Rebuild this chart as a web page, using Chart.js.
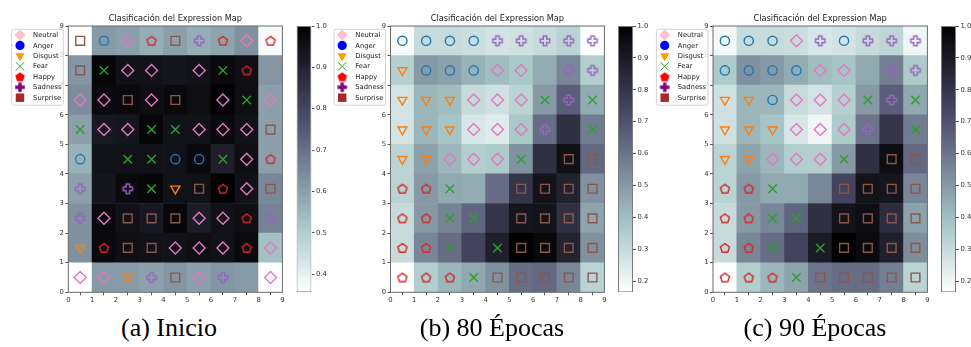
<!DOCTYPE html>
<html>
<head>
<meta charset="utf-8">
<script src="https://cdn.jsdelivr.net/npm/chart.js@4.4.1/dist/chart.umd.min.js"></script>
<style>
html,body{margin:0;padding:0;background:#fff;}
#wrap{position:relative;width:971px;height:347px;overflow:hidden;background:#fff;}
canvas{position:absolute;top:0;}
.cap{position:absolute;top:313px;line-height:30px;font-family:"Liberation Serif","DejaVu Serif",serif;font-size:26px;color:#000;white-space:nowrap;transform:translateX(-50%);}
</style>
</head>
<body>
<div id="wrap">
  <canvas id="m1" width="290" height="312" style="left:0px"></canvas>
  <canvas id="c1" width="40" height="312" style="left:294px"></canvas>
  <canvas id="m2" width="290" height="312" style="left:322px"></canvas>
  <canvas id="c2" width="40" height="312" style="left:616px"></canvas>
  <canvas id="m3" width="290" height="312" style="left:645px"></canvas>
  <canvas id="c3" width="40" height="312" style="left:939px"></canvas>
  <div class="cap" id="cap1" style="left:169px"></div>
  <div class="cap" id="cap2" style="left:492px"></div>
  <div class="cap" id="cap3" style="left:815px"></div>
</div>
<script>
// ---------------- DATA ----------------
const TITLE = 'Clasificación del Expression Map';
const captions = ['(a) Inicio', '(b) 80 Épocas', '(c) 90 Épocas'];
const classNames = ['Neutral', 'Anger', 'Disgust', 'Fear', 'Happy', 'Sadness', 'Surprise'];
const classCodes = ['N', 'A', 'D', 'F', 'H', 'S', 'U'];
const axisTicks = [0, 1, 2, 3, 4, 5, 6, 7, 8, 9];
const cbTicksInicio = [0.4, 0.5, 0.6, 0.7, 0.8, 0.9, 1.0];
const cbTicks80 = [0.2, 0.3, 0.4, 0.5, 0.6, 0.7, 0.8, 0.9, 1.0];
const cbTicks90 = [0.2, 0.3, 0.4, 0.5, 0.6, 0.7, 0.8, 0.9, 1.0];

// distance maps, rows from top (y 8..9) to bottom (y 0..1), columns x 0..8
const distInicio = [
  [0.356, 0.61, 0.60, 0.57, 0.60, 0.57, 0.59, 0.63, 0.37],
  [0.62, 0.98, 0.95, 0.95, 0.94, 0.95, 0.97, 0.96, 0.62],
  [0.64, 0.97, 0.97, 0.96, 0.97, 0.96, 0.99, 0.96, 0.60],
  [0.60, 0.93, 0.94, 0.98, 0.95, 0.95, 0.97, 0.95, 0.60],
  [0.56, 0.95, 0.95, 0.95, 0.95, 0.97, 0.91, 0.96, 0.60],
  [0.60, 0.94, 0.97, 0.98, 0.95, 0.95, 1.00, 0.95, 0.65],
  [0.63, 0.97, 0.95, 0.93, 0.98, 0.92, 0.95, 0.96, 0.66],
  [0.63, 0.97, 0.96, 0.95, 0.95, 0.96, 0.95, 0.97, 0.53],
  [0.356, 0.61, 0.61, 0.60, 0.62, 0.60, 0.62, 0.61, 0.36]
];
const dist80 = [
  [0.18, 0.30, 0.30, 0.29, 0.27, 0.28, 0.30, 0.33, 0.17],
  [0.34, 0.50, 0.48, 0.43, 0.40, 0.37, 0.45, 0.55, 0.35],
  [0.27, 0.42, 0.40, 0.30, 0.28, 0.33, 0.50, 0.66, 0.45],
  [0.27, 0.42, 0.38, 0.26, 0.24, 0.37, 0.62, 0.82, 0.58],
  [0.33, 0.48, 0.42, 0.35, 0.36, 0.52, 0.82, 0.94, 0.63],
  [0.33, 0.50, 0.46, 0.45, 0.62, 0.80, 0.93, 0.87, 0.52],
  [0.30, 0.50, 0.56, 0.64, 0.80, 0.92, 0.93, 0.82, 0.47],
  [0.30, 0.55, 0.62, 0.75, 0.88, 1.00, 0.97, 0.87, 0.52],
  [0.165, 0.35, 0.42, 0.46, 0.52, 0.62, 0.63, 0.55, 0.33]
];
const dist90 = [
  [0.19, 0.30, 0.30, 0.29, 0.26, 0.27, 0.30, 0.32, 0.20],
  [0.36, 0.52, 0.50, 0.45, 0.40, 0.38, 0.46, 0.57, 0.36],
  [0.28, 0.42, 0.42, 0.30, 0.27, 0.34, 0.50, 0.66, 0.46],
  [0.28, 0.42, 0.38, 0.26, 0.20, 0.36, 0.60, 0.80, 0.58],
  [0.33, 0.47, 0.42, 0.35, 0.35, 0.50, 0.82, 0.95, 0.63],
  [0.33, 0.50, 0.46, 0.46, 0.55, 0.75, 0.93, 0.92, 0.55],
  [0.30, 0.50, 0.55, 0.64, 0.82, 0.93, 0.95, 0.83, 0.48],
  [0.30, 0.55, 0.62, 0.75, 0.90, 1.00, 0.96, 0.88, 0.53],
  [0.165, 0.35, 0.42, 0.47, 0.60, 0.62, 0.62, 0.57, 0.33]
];

// winning class per neuron, rows from top to bottom ('.' = none)
const marksInicio = [
  'UANHUSHNH',
  'UFNN.NFH.',
  'NNUNU.NFN',
  'FNNFFNNNU',
  'A.FFAAFNH',
  'S.SFDUHNU',
  'SNUUUNNHS',
  'DHUUNNNHN',
  'NNDSUNS.N'
];
const marks80 = [
  'AAAASSSSS',
  'DAAANN.SS',
  'DDDNNNFSF',
  'DDDNNNS.F',
  'DDNNNF.UU',
  'HHF..UUUU',
  'HHFF.UUUU',
  'HHF.FUUUU',
  'HHHFUUUUU'
];
const marks90 = [
  'AAANSASSS',
  'AAAANN.SS',
  'DDANNNFSF',
  'DDDNNNS.F',
  'DDNNNF.UU',
  'HHF..UUUU',
  'HHFF.UUUU',
  'HHF.FUUUU',
  'HHHFUUUUU'
];

// ---------------- HELPERS ----------------
const FONT = 'DejaVu Sans';
Chart.defaults.font.family = FONT;
Chart.defaults.color = '#262626';

function interp(pts, x) {
  for (let i = 1; i < pts.length; i++) {
    if (x <= pts[i][0]) {
      const [x0, y0] = pts[i - 1], [x1, y1] = pts[i];
      return y0 + (y1 - y0) * (x - x0) / (x1 - x0);
    }
  }
  return pts[pts.length - 1][1];
}
function boneR(t) {
  const x = 1 - Math.max(0, Math.min(1, t));
  const r = interp([[0, 0], [0.746032, 0.652778], [1, 1]], x);
  const g = interp([[0, 0], [0.365079, 0.319444], [0.746032, 0.777778], [1, 1]], x);
  const b = interp([[0, 0], [0.365079, 0.444444], [1, 1]], x);
  return 'rgb(' + Math.round(r * 255) + ',' + Math.round(g * 255) + ',' + Math.round(b * 255) + ')';
}

function markerCanvas(kind, color, filled, lw) {
  const c = document.createElement('canvas');
  c.width = 16; c.height = 16;
  const g = c.getContext('2d');
  g.translate(8, 8);
  g.beginPath();
  if (kind === 'pent') {
    const R = filled ? 5 : 4.8;
    for (let k = 0; k < 5; k++) {
      const a = -Math.PI / 2 + k * 2 * Math.PI / 5;
      const px = R * Math.cos(a), py = R * Math.sin(a) + 0.4;
      if (k === 0) g.moveTo(px, py); else g.lineTo(px, py);
    }
    g.closePath();
  } else {
    const h = filled ? 4.8 : 4.7, a = 1.7;
    const p = [[-a,-h],[a,-h],[a,-a],[h,-a],[h,a],[a,a],[a,h],[-a,h],[-a,a],[-h,a],[-h,-a],[-a,-a]];
    p.forEach((q, i) => i ? g.lineTo(q[0], q[1]) : g.moveTo(q[0], q[1]));
    g.closePath();
  }
  if (filled) { g.fillStyle = color; g.fill(); }
  else { g.strokeStyle = color; g.lineWidth = lw; g.lineJoin = 'miter'; g.stroke(); }
  return c;
}

const LW = 1.4;
const mapStyles = {
  N: {pointStyle: 'rectRot', radius: 6, color: '#e377c2'},
  A: {pointStyle: 'circle', radius: 4.6, color: '#1f77b4'},
  D: {pointStyle: 'triangle', radius: 5.2, rotation: 180, color: '#ff7f0e'},
  F: {pointStyle: 'crossRot', radius: 6, color: '#2ca02c'},
  H: {pointStyle: markerCanvas('pent', '#d62728', false, LW), radius: 5, color: '#d62728'},
  S: {pointStyle: markerCanvas('plus', '#9467bd', false, LW), radius: 5, color: '#9467bd'},
  U: {pointStyle: 'rect', radius: 6.2, color: '#8c564b'}
};
const legendStyles = [
  {pointStyle: 'rectRot', radius: 5.6, color: '#ffc0cb', bw: 0},
  {pointStyle: 'circle', radius: 4.6, color: '#0000ff', bw: 0},
  {pointStyle: 'triangle', radius: 5.4, rotation: 180, color: '#ff9900', bw: 0},
  {pointStyle: 'crossRot', radius: 6, color: '#2ca02c', bw: 1},
  {pointStyle: markerCanvas('pent', '#ff0000', true), radius: 5, color: '#ff0000', bw: 0},
  {pointStyle: markerCanvas('plus', '#800080', true), radius: 5, color: '#800080', bw: 0},
  {pointStyle: 'rect', radius: 6, color: '#a52a2a', bw: 0}
];

// ---------------- PLUGINS ----------------
const framePlugin = {
  id: 'frame',
  afterDraw(chart) {
    const a = chart.chartArea, ctx = chart.ctx;
    ctx.save();
    ctx.strokeStyle = '#6a6a6a';
    ctx.lineWidth = 1;
    ctx.strokeRect(a.left, a.top, a.right - a.left, a.bottom - a.top);
    ctx.restore();
  }
};
const legendPlugin = {
  id: 'somLegend',
  afterDraw(chart) {
    const ctx = chart.ctx, a = chart.chartArea;
    const L = a.left - 56.6, R = a.left - 5, T = 29.3, B = 105.2, rr = 2;
    ctx.save();
    ctx.beginPath();
    ctx.moveTo(L + rr, T); ctx.lineTo(R - rr, T); ctx.quadraticCurveTo(R, T, R, T + rr);
    ctx.lineTo(R, B - rr); ctx.quadraticCurveTo(R, B, R - rr, B);
    ctx.lineTo(L + rr, B); ctx.quadraticCurveTo(L, B, L, B - rr);
    ctx.lineTo(L, T + rr); ctx.quadraticCurveTo(L, T, L + rr, T);
    ctx.closePath();
    ctx.fillStyle = 'rgba(255,255,255,0.8)';
    ctx.fill();
    ctx.strokeStyle = '#d4d4d4';
    ctx.lineWidth = 1;
    ctx.stroke();
    classNames.forEach((name, i) => {
      const y = 35 + i * 10.45;
      const st = legendStyles[i];
      ctx.fillStyle = st.color;
      ctx.strokeStyle = st.color;
      ctx.lineWidth = st.bw || 1;
      Chart.helpers.drawPoint(ctx, {pointStyle: st.pointStyle, radius: st.radius, rotation: st.rotation || 0, borderWidth: st.bw}, a.left - 48.3, y);
      ctx.fillStyle = '#1a1a1a';
      ctx.font = '6.8px "' + FONT + '"';
      ctx.textBaseline = 'middle';
      ctx.textAlign = 'left';
      ctx.fillText(name, a.left - 35.2, y + 0.3);
    });
    ctx.restore();
  }
};

// ---------------- BUILD ----------------
const PLOT_W = 215, PLOT_TOP = 26, PLOT_BOTTOM = 292.3, CANVAS_H = 312;
const panels = [
  {m: 'm1', c: 'c1', cap: 'cap1', offset: 68.3, cbOffset: 2.5, dist: distInicio, marks: marksInicio, cbTicks: cbTicksInicio, caption: captions[0]},
  {m: 'm2', c: 'c2', cap: 'cap2', offset: 68.5, cbOffset: 2.0, dist: dist80, marks: marks80, cbTicks: cbTicks80, caption: captions[1]},
  {m: 'm3', c: 'c3', cap: 'cap3', offset: 68.0, cbOffset: 2.0, dist: dist90, marks: marks90, cbTicks: cbTicks90, caption: captions[2]}
];

const tickFont = {family: FONT, size: 6.8};

panels.forEach(p => {
  document.getElementById(p.cap).textContent = p.caption;
  const flat = p.dist.flat();
  const vmin = Math.min(...flat), vmax = Math.max(...flat);
  const cells = [], colors = [];
  p.dist.forEach((row, r) => row.forEach((v, c) => {
    cells.push({x: c + 0.5, y: [8 - r, 9 - r]});
    colors.push(boneR((v - vmin) / (vmax - vmin)));
  }));
  const markerSets = classCodes.map((code, k) => {
    const pts = [];
    p.marks.forEach((row, r) => {
      for (let c = 0; c < row.length; c++) if (row[c] === code) pts.push({x: c + 0.5, y: 8 - r + 0.5});
    });
    const st = mapStyles[code];
    return {
      type: 'scatter', label: classNames[k], data: pts, order: 1,
      pointStyle: st.pointStyle, pointRadius: st.radius, pointRotation: st.rotation || 0,
      borderColor: st.color, backgroundColor: 'rgba(0,0,0,0)', borderWidth: LW,
      pointHoverRadius: st.radius
    };
  });
  const canvasW = 290;
  new Chart(document.getElementById(p.m), {
    type: 'bar',
    data: {
      datasets: [{
        type: 'bar', label: 'dist', data: cells, order: 10,
        backgroundColor: colors, borderWidth: 0,
        barPercentage: 1, categoryPercentage: 1, grouped: false
      }].concat(markerSets)
    },
    options: {
      responsive: false, animation: false, devicePixelRatio: 1,
      layout: {padding: {left: p.offset - 12, right: canvasW - p.offset - PLOT_W, top: 0, bottom: CANVAS_H - PLOT_BOTTOM - 12}},
      plugins: {
        legend: {display: false}, tooltip: {enabled: false},
        title: {display: true, text: TITLE, fullSize: false, color: '#1a1a1a',
          font: {family: FONT, size: 8.2, weight: 'normal'}, padding: {top: 14, bottom: PLOT_TOP - 14 - 8.2 * 1.2}}
      },
      scales: {
        x: {
          type: 'linear', min: 0, max: 9, offset: false,
          afterBuildTicks: s => { s.ticks = axisTicks.map(v => ({value: v})); },
          afterFit: s => { s.height = 12; },
          ticks: {font: tickFont, color: '#333', padding: 1, maxRotation: 0, autoSkip: false},
          grid: {drawOnChartArea: false, drawTicks: true, tickLength: 3, color: '#555'},
          border: {display: false}
        },
        y: {
          type: 'linear', min: 0, max: 9,
          afterBuildTicks: s => { s.ticks = axisTicks.map(v => ({value: v})); },
          afterFit: s => { s.width = 12; },
          ticks: {font: tickFont, color: '#333', padding: 1.5, autoSkip: false},
          grid: {drawOnChartArea: false, drawTicks: true, tickLength: 3, color: '#555'},
          border: {display: false}
        }
      }
    },
    plugins: [framePlugin, legendPlugin]
  });

  // colorbar
  const cbW = 40, barW = 15, axW = 20;
  new Chart(document.getElementById(p.c), {
    type: 'bar',
    data: {
      labels: ['cb'],
      datasets: [{
        data: [[vmin, vmax]],
        barPercentage: 1, categoryPercentage: 1,
        borderColor: '#7a7a7a', borderWidth: 1, borderSkipped: false, inflateAmount: 0,
        backgroundColor: (ctx) => {
          const ch = ctx.chart, a = ch.chartArea;
          if (!a) return '#ffffff';
          const g = ch.ctx.createLinearGradient(0, a.bottom, 0, a.top);
          for (let k = 0; k <= 40; k++) g.addColorStop(k / 40, boneR(k / 40));
          return g;
        }
      }]
    },
    options: {
      responsive: false, animation: false, devicePixelRatio: 1,
      layout: {padding: {left: p.cbOffset, right: cbW - p.cbOffset - barW - axW, top: PLOT_TOP, bottom: CANVAS_H - PLOT_BOTTOM}},
      plugins: {legend: {display: false}, tooltip: {enabled: false}},
      scales: {
        x: {display: false},
        y: {
          position: 'right', min: vmin, max: vmax,
          afterBuildTicks: s => { s.ticks = p.cbTicks.map(v => ({value: v})); },
          afterFit: s => { s.width = axW; },
          ticks: {font: tickFont, color: '#333', padding: 1.5, autoSkip: false, callback: v => Number(v).toFixed(1)},
          grid: {drawOnChartArea: false, drawTicks: true, tickLength: 3, color: '#555'},
          border: {display: false}
        }
      }
    }
  });
});
</script>
</body>
</html>
